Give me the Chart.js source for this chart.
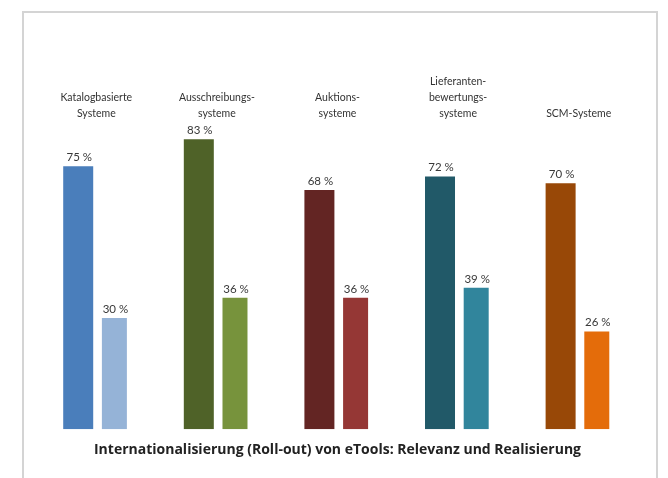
<!DOCTYPE html>
<html>
<head>
<meta charset="utf-8">
<script src="https://cdn.jsdelivr.net/npm/chart.js@4"></script>
<style>
  body { margin: 0; background: #fff; }
  #frame { position: absolute; left: 22px; top: 11px; width: 632px; height: 480px; border: 2px solid #d4d4d4; }
  #box { position: absolute; left: 0; top: 0; width: 632px; height: 465px; }
</style>
</head>
<body>
<div id="frame"><div id="box"><canvas id="chart"></canvas></div></div>
<script>
const categories = [
    ['Katalogbasierte', 'Systeme'],
    ['Ausschreibungs-', 'systeme'],
    ['Auktions-', 'systeme'],
    ['Lieferanten-', 'bewertungs-', 'systeme'],
    'SCM-Systeme'
];
const relevanz = [75, 83, 68, 72, 70];
const realisierung = [30, 36, 36, 39, 26];
const darkColors = ['#4a7ebb', '#4f6228', '#632523', '#215968', '#984807'];
const lightColors = ['#95b3d7', '#77933c', '#953735', '#31859c', '#e46c0a'];
const chartTitle = 'Internationalisierung (Roll-out) von eTools: Relevanz und Realisierung';

// draws "75 %" above each bar
const valueLabels = {
    id: 'valueLabels',
    afterDatasetsDraw(chart) {
        const ctx = chart.ctx;
        ctx.save();
        ctx.font = '11.5px Lato';
        ctx.fillStyle = '#383838';
        ctx.textAlign = 'center';
        ctx.textBaseline = 'bottom';
        chart.data.datasets.forEach((ds, i) => {
            chart.getDatasetMeta(i).data.forEach((bar, j) => {
                ctx.fillText(ds.data[j] + ' %', bar.x + 1, bar.y - 3);
            });
        });
        ctx.restore();
    }
};

const ctx = document.getElementById('chart').getContext('2d');
new Chart(ctx, {
    type: 'bar',
    data: {
        labels: categories,
        datasets: [
            {
                label: 'Relevanz',
                data: relevanz,
                backgroundColor: darkColors,
                base: -3,
                maxBarThickness: 30
            },
            {
                label: 'Realisierung',
                data: realisierung,
                backgroundColor: lightColors,
                base: -3,
                maxBarThickness: 25
            }
        ]
    },
    options: {
        responsive: true,
        maintainAspectRatio: false,
        animation: false,
        categoryPercentage: 0.6,
        barPercentage: 0.83,
        layout: { padding: { left: 12, right: 17, top: 53, bottom: 0 } },
        plugins: {
            legend: { display: false },
            tooltip: { enabled: false },
            title: {
                display: true,
                position: 'bottom',
                text: chartTitle,
                color: '#222',
                font: { family: 'Open Sans', size: 14, weight: 'bold' },
                padding: { top: 12, bottom: 20 }
            }
        },
        scales: {
            x: {
                position: 'top',
                grid: { display: false, drawTicks: false },
                border: { display: false },
                ticks: {
                    color: '#333',
                    font: { family: 'Lato', size: 10.5, lineHeight: 1.5 },
                    padding: 8,
                    maxRotation: 0
                }
            },
            y: {
                display: false,
                min: -3,
                max: 86
            }
        }
    },
    plugins: [valueLabels]
});
</script>
</body>
</html>
